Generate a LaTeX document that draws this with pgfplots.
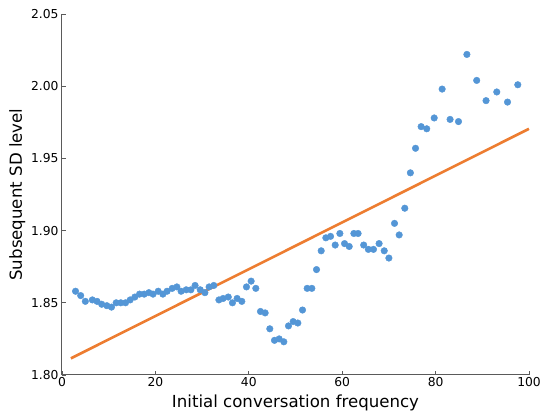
\documentclass[border=0pt]{standalone}
\usepackage{fontspec}
\setmainfont{DejaVu Sans}
\usepackage{pgfplots}
\pgfplotsset{compat=1.18}
\definecolor{ptblue}{RGB}{84,150,214}
\definecolor{lnorange}{RGB}{237,125,49}
\definecolor{axgray}{RGB}{90,90,90}
\begin{document}
\begin{tikzpicture}
\begin{axis}[
  scale only axis,
  width=467pt, height=361pt,
  xmin=0, xmax=100, ymin=1.80, ymax=2.05,
  axis x line*=bottom, axis y line*=left,
  axis line style={axgray, line width=1pt},
  tick align=inside,
  major tick length=4pt,
  tick style={axgray, line width=0.8pt},
  xtick={0,20,40,60,80,100},
  ytick={1.80,1.85,1.90,1.95,2.00,2.05},
  yticklabel style={/pgf/number format/.cd, fixed, fixed zerofill, precision=2},
  /pgf/number format/assume math mode=true,
  ticklabel style={font=\fontsize{12.3}{14}\selectfont},
  xticklabel style={yshift=1pt},
  xlabel={Initial conversation frequency},
  ylabel={Subsequent SD level},
  label style={font=\fontsize{16.6}{19}\selectfont},
  xlabel style={yshift=-1pt},
  ylabel style={yshift=-1pt},
  clip=false,
]
\addplot[only marks, mark=*, mark size=3.3pt, mark options={draw=ptblue, fill=ptblue}] coordinates {
(2.9,1.858) (4.0,1.855) (5.0,1.851) (6.5,1.852) (7.5,1.851) (8.5,1.849) (9.6,1.848) (10.6,1.847)
(11.6,1.850) (12.6,1.850) (13.6,1.850) (14.6,1.852) (15.6,1.854) (16.6,1.856) (17.6,1.856) (18.6,1.857)
(19.5,1.856) (20.6,1.858) (21.6,1.856) (22.5,1.858) (23.6,1.860) (24.6,1.861) (25.5,1.858) (26.6,1.859)
(27.6,1.859) (28.5,1.862) (29.6,1.859) (30.6,1.857) (31.5,1.861) (32.5,1.862) (33.6,1.852) (34.5,1.853)
(35.6,1.854) (36.5,1.850) (37.5,1.853) (38.5,1.851) (39.5,1.861) (40.5,1.865) (41.5,1.860) (42.5,1.844)
(43.5,1.843) (44.5,1.832) (45.5,1.824) (46.5,1.825) (47.5,1.823) (48.5,1.834) (49.5,1.837) (50.5,1.836)
(51.5,1.845) (52.5,1.860) (53.5,1.860) (54.5,1.873) (55.5,1.886) (56.5,1.895) (57.5,1.896) (58.5,1.890)
(59.5,1.898) (60.5,1.891) (61.5,1.889) (62.5,1.898) (63.4,1.898) (64.6,1.890) (65.6,1.887) (66.7,1.887)
(67.9,1.891) (69.0,1.886) (70.0,1.881) (71.2,1.905) (72.2,1.897) (73.4,1.9155) (74.6,1.940) (75.7,1.957)
(76.9,1.972) (78.1,1.9705) (79.7,1.978) (81.4,1.998) (83.1,1.977) (84.9,1.9755) (86.7,2.022) (88.8,2.004)
(90.8,1.990) (93.1,1.996) (95.4,1.989) (97.6,2.001)
};
\addplot[lnorange, line width=2.6pt] coordinates {(1.9,1.8115) (100,1.9705)};
\end{axis}
\pgfresetboundingbox
\path[use as bounding box] (current axis.south west) ++(-62pt,-39pt) rectangle ++(543pt,414pt);
\end{tikzpicture}
\end{document}
